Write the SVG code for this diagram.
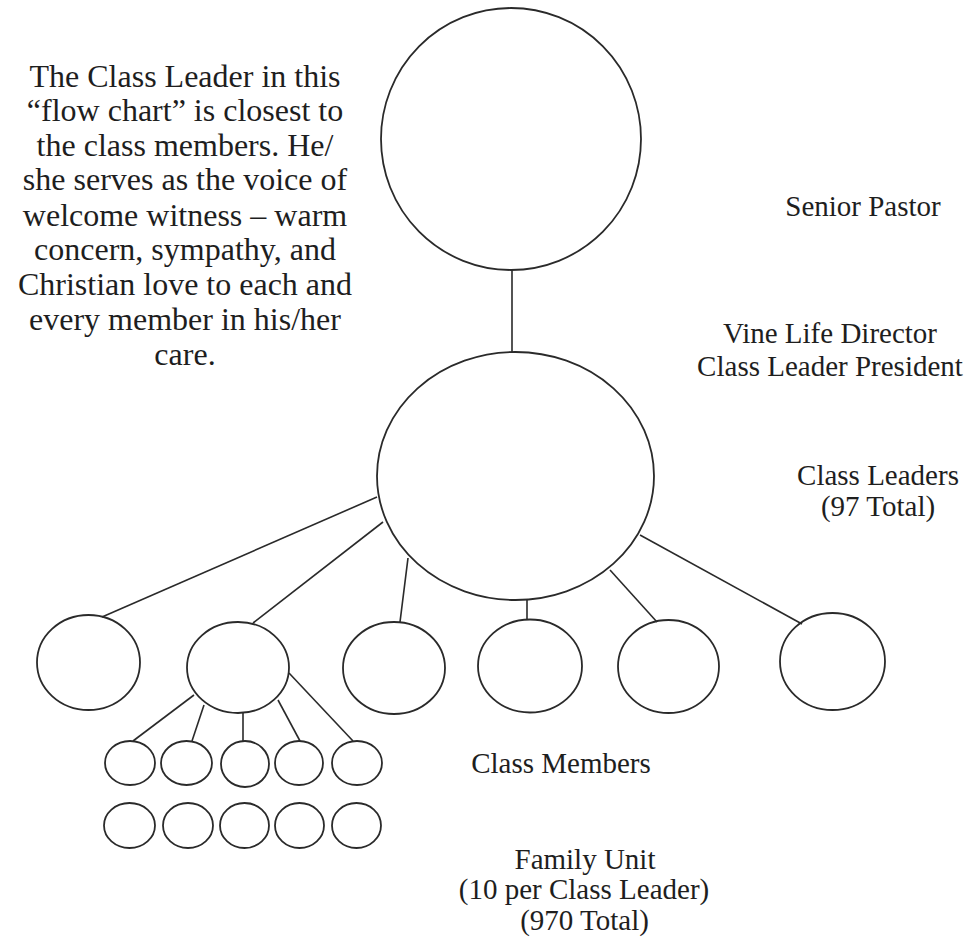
<svg xmlns="http://www.w3.org/2000/svg" width="979" height="938" viewBox="0 0 979 938">
<style>
.n{fill:none;stroke:#2a2a2a;stroke-width:1.8}
.c{fill:none;stroke:#2a2a2a;stroke-width:1.6}
.t{font-family:"Liberation Serif","Times New Roman",serif;fill:#1e1e1e;text-anchor:middle}
.p{font-size:32px}
.r{font-size:29px}
</style>
<rect width="979" height="938" fill="#ffffff"/>
<g id="connectors">
<line class="c" x1="512" y1="270" x2="512" y2="352"/>
<line class="c" x1="377" y1="497" x2="102" y2="617"/>
<line class="c" x1="383" y1="522" x2="253" y2="623"/>
<line class="c" x1="408" y1="558" x2="400" y2="622"/>
<line class="c" x1="527" y1="600" x2="527" y2="620"/>
<line class="c" x1="610" y1="570" x2="657" y2="622"/>
<line class="c" x1="640" y1="535" x2="802" y2="624"/>
<line class="c" x1="194" y1="695" x2="133" y2="741"/>
<line class="c" x1="204" y1="705" x2="192" y2="741"/>
<line class="c" x1="243" y1="713" x2="243" y2="741"/>
<line class="c" x1="278" y1="700" x2="300" y2="741"/>
<line class="c" x1="289" y1="673" x2="353" y2="741"/>
</g>
<g id="senior-pastor"><ellipse class="n" cx="511" cy="139" rx="130" ry="131"/></g>
<g id="director"><ellipse class="n" cx="515.5" cy="476" rx="138.5" ry="124"/></g>
<g id="leader1"><ellipse class="n" cx="88.5" cy="662.5" rx="51.5" ry="47.5"/></g>
<g id="leader2"><ellipse class="n" cx="238" cy="667.5" rx="51" ry="45.5"/></g>
<g id="leader3"><ellipse class="n" cx="394" cy="668" rx="51" ry="46"/></g>
<g id="leader4"><ellipse class="n" cx="530" cy="666" rx="52" ry="46.5"/></g>
<g id="leader5"><ellipse class="n" cx="668.5" cy="666.5" rx="50.5" ry="46.5"/></g>
<g id="leader6"><ellipse class="n" cx="832.5" cy="661.5" rx="52.5" ry="48.5"/></g>
<g id="member1"><ellipse class="n" cx="130" cy="763" rx="25" ry="22"/></g>
<g id="member2"><ellipse class="n" cx="186.5" cy="763" rx="25.5" ry="22"/></g>
<g id="member3"><ellipse class="n" cx="245" cy="764" rx="24" ry="23"/></g>
<g id="member4"><ellipse class="n" cx="299" cy="763" rx="24" ry="22"/></g>
<g id="member5"><ellipse class="n" cx="357" cy="763" rx="25" ry="22"/></g>
<g id="family1"><ellipse class="n" cx="129.5" cy="825.5" rx="25.5" ry="22.5"/></g>
<g id="family2"><ellipse class="n" cx="188" cy="825.5" rx="25" ry="22.5"/></g>
<g id="family3"><ellipse class="n" cx="244.5" cy="825.5" rx="24.5" ry="22.5"/></g>
<g id="family4"><ellipse class="n" cx="299.5" cy="825.5" rx="24.5" ry="22.5"/></g>
<g id="family5"><ellipse class="n" cx="356.5" cy="825.5" rx="24.5" ry="22.5"/></g>
<g id="description">
<text class="t p" x="185" y="87">The Class Leader in this</text>
<text class="t p" x="185" y="121">“flow chart” is closest to</text>
<text class="t p" x="185" y="156">the class members. He/</text>
<text class="t p" x="185" y="190">she serves as the voice of</text>
<text class="t p" x="185" y="226">welcome witness – warm</text>
<text class="t p" x="185" y="260">concern, sympathy, and</text>
<text class="t p" x="185" y="295">Christian love to each and</text>
<text class="t p" x="185" y="330">every member in his/her</text>
<text class="t p" x="185" y="365">care.</text>
</g>
<g id="labels">
<text class="t r" x="863" y="216">Senior Pastor</text>
<text class="t r" x="830" y="343">Vine Life Director</text>
<text class="t r" x="830" y="376">Class Leader President</text>
<text class="t r" x="878" y="485">Class Leaders</text>
<text class="t r" x="878" y="516">(97 Total)</text>
<text class="t r" x="561" y="773">Class Members</text>
<text class="t r" x="585" y="869">Family Unit</text>
<text class="t r" x="584" y="899">(10 per Class Leader)</text>
<text class="t r" x="584.5" y="930">(970 Total)</text>
</g>
</svg>
